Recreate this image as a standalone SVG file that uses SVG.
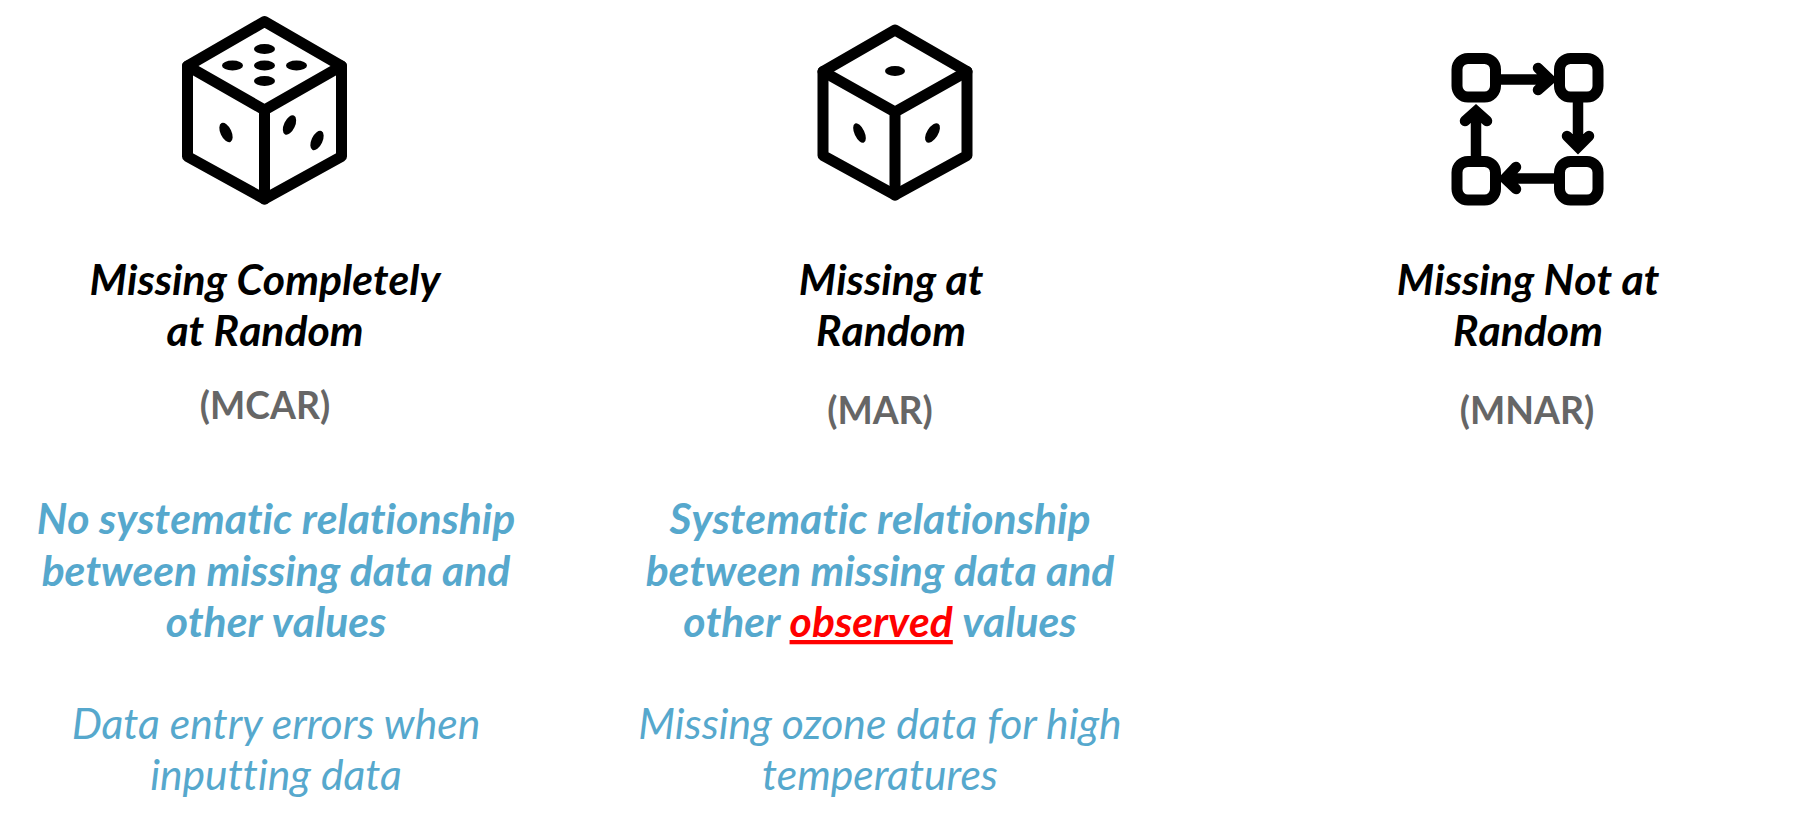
<svg xmlns="http://www.w3.org/2000/svg" width="1814" height="820" viewBox="0 0 1814 820">
<style>
text{font-family:Lato,"Open Sans",sans-serif;font-size:42.67px;text-anchor:middle;font-variant-ligatures:none}
.t{font-style:italic;font-weight:700;fill:#000;font-kerning:none}
.a{font-weight:700;fill:#666;font-size:37.33px;font-kerning:none}
.b{font-style:italic;font-weight:700;fill:#56a8cd;font-kerning:none}
.e{font-style:italic;fill:#56a8cd}
.r{fill:#f00;text-decoration:underline}
.ic{fill:none;stroke:#000;stroke-width:11;stroke-linejoin:round;stroke-linecap:round}
.ar{fill:none;stroke:#000;stroke-width:10.500;stroke-linejoin:miter;stroke-linecap:round}
</style>
<rect width="1814" height="820" fill="#fff"/>
<g id="icon-mcar">
<g class="ic"><path d="M264.500 21.500L341.500 66V156.500L264.500 199L187.500 156.500V66Z"/><path d="M187.500 66L264.500 110L341.500 66M264.500 110V199"/></g>
<ellipse cx="264.500" cy="49" rx="10.500" ry="5"/><ellipse cx="232.500" cy="65.500" rx="10.500" ry="5"/><ellipse cx="264.500" cy="65.500" rx="10.500" ry="5"/><ellipse cx="296.500" cy="65.500" rx="10.500" ry="5"/><ellipse cx="264.500" cy="81" rx="10.500" ry="5"/>
<ellipse cx="226" cy="132.500" rx="5.500" ry="10.500" transform="rotate(-25 226 132.500)"/><ellipse cx="289.500" cy="125" rx="5.500" ry="10.500" transform="rotate(25 289.500 125)"/><ellipse cx="317" cy="140.500" rx="5.500" ry="10.500" transform="rotate(25 317 140.500)"/>
</g>
<g id="icon-mar">
<g class="ic"><path d="M895 30L967 71.500V155.500L895 195L823 155.500V71.500Z"/><path d="M823 71.500L895 112L967 71.500M895 112V195"/></g>
<ellipse cx="895" cy="71" rx="10" ry="5"/><ellipse cx="859.500" cy="133" rx="5" ry="10.500" transform="rotate(-25 859.500 133)"/><ellipse cx="932.500" cy="133" rx="5.500" ry="11" transform="rotate(32 932.500 133)"/>
</g>
<g id="icon-mnar">
<g class="ic"><rect x="1457" y="58.500" width="38.500" height="38.500" rx="11"/><rect x="1559.500" y="58.500" width="38.500" height="38.500" rx="11"/><rect x="1457" y="161.500" width="38.500" height="38.500" rx="11"/><rect x="1559.500" y="161.500" width="38.500" height="38.500" rx="11"/></g>
</g>
<g id="connectors">
<path class="ar" d="M1500 79.500H1548M1538 68L1550 79.500L1538 90"/>
<path class="ar" d="M1578 102V145M1567 136L1578 147L1589 136"/>
<path class="ar" d="M1554 178.500H1507M1516 167L1505 178.500L1516 189"/>
<path class="ar" d="M1476 157V113M1465 121L1476 111L1487 121"/>
</g>
<g id="mcar">
<text class="t" x="265" y="295">Missing Completely</text><text class="t" x="265" y="346">at Random</text>
<text class="a" x="265" y="419">(MCAR)</text>
<text class="b" x="276" y="534">No systematic relationship</text><text class="b" x="276" y="586">between missing data and</text><text class="b" x="276" y="637">other values</text>
<text class="e" x="276" y="739">Data entry errors when</text><text class="e" x="276" y="790">inputting data</text>
</g>
<g id="mar">
<text class="t" x="891" y="295">Missing at</text><text class="t" x="891" y="346">Random</text>
<text class="a" x="880" y="424">(MAR)</text>
<text class="b" x="880" y="534">Systematic relationship</text><text class="b" x="880" y="586">between missing data and</text><text class="b" x="880" y="637">other <tspan class="r">observed</tspan> values</text>
<text class="e" x="880" y="739">Missing ozone data for high</text><text class="e" x="880" y="790">temperatures</text>
</g>
<g id="mnar">
<text class="t" x="1528" y="295">Missing Not at</text><text class="t" x="1528" y="346">Random</text>
<text class="a" x="1527" y="424">(MNAR)</text>
</g>
</svg>
